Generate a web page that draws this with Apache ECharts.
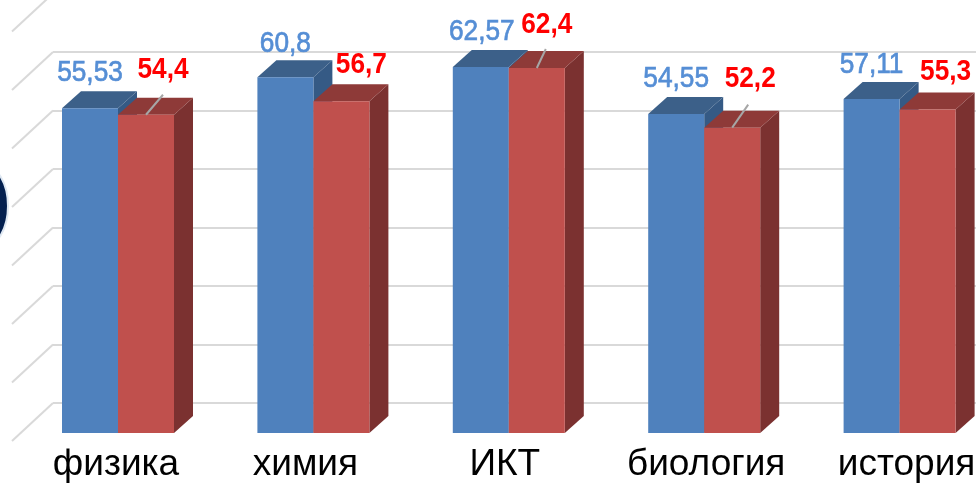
<!DOCTYPE html>
<html>
<head>
<meta charset="utf-8">
<style>html,body{margin:0;padding:0;background:#fff}#c{width:976px;height:484px}</style>
<script src="https://cdn.jsdelivr.net/npm/echarts@6/dist/echarts.min.js"></script>
</head>
<body>
<div id="c"></div>
<script>
const categories = ['физика', 'химия', 'ИКТ', 'биология', 'история'];
const blueValues = [55.53, 60.8, 62.57, 54.55, 57.11];
const redValues = [54.4, 56.7, 62.4, 52.2, 55.3];
const wallTicks = [0, 10, 20, 30, 40, 50, 60, 70];

// layout of the hand-placed labels: pixel shift from the bar's front top centre
const blueLabelShift = [[0, -35], [0, -34], [1, -35], [0, -35], [0, -34]];
const redLabelShift = [[17, -45], [20, -37], [10, -43], [18, -49], [18, -38]];
const redLeader = [[17, -20], null, [9, -19], [16, -23], null];
// layout: horizontal shift of each category label from its band centre
const categoryShift = [-2, -8, -4, 2, 7];

const DEPTH_X = 19, DEPTH_Y = 17, BAR_W = 56;
const fmt = v => String(v).replace('.', ',');

function bar3d(offset, colors, labelColor, weight, shifts, leader) {
  return function (params, api) {
    const i = api.value(0), v = api.value(1);
    const top = api.coord([i, v]), base = api.coord([i, 0]);
    const x0 = top[0] + offset, x1 = x0 + BAR_W, yT = top[1], yB = base[1];
    const poly = (pts, fill) => ({ type: 'polygon', shape: { points: pts }, style: { fill: fill } });
    const kids = [
      poly([[x1, yT], [x1 + DEPTH_X, yT - DEPTH_Y], [x1 + DEPTH_X, yB - DEPTH_Y], [x1, yB]], colors[2]),
      poly([[x0, yT], [x0 + DEPTH_X, yT - DEPTH_Y], [x1 + DEPTH_X, yT - DEPTH_Y], [x1, yT]], colors[1]),
      { type: 'rect', shape: { x: x0, y: yT, width: BAR_W, height: yB - yT }, style: { fill: colors[0] } }
    ];
    const cx = x0 + BAR_W / 2, s = shifts[params.dataIndex];
    const tip = leader && leader[params.dataIndex];
    if (tip) {
      kids.push({ type: 'line', shape: { x1: cx, y1: yT, x2: cx + tip[0], y2: yT + tip[1] },
        style: { stroke: '#a6a6a6', lineWidth: 2 } });
    }
    kids.push({ type: 'text', x: cx + s[0], y: yT + s[1], scaleX: 0.875, style: {
      text: fmt(v), fill: labelColor, stroke: labelColor, lineWidth: weight === 'bold' ? 0 : 0.7,
      align: 'center', verticalAlign: 'middle',
      font: weight + ' 30px "Liberation Sans",sans-serif' } });
    return { type: 'group', children: kids };
  };
}

const rich = {};
categoryShift.forEach((d, i) => {
  rich['c' + i] = { color: '#000', fontSize: 37, fontFamily: '"Liberation Sans",Arial,sans-serif',
    padding: d < 0 ? [0, -2 * d, 0, 0] : [0, 0, 0, 2 * d] };
});

const chart = echarts.init(document.getElementById('c'), null, { renderer: 'canvas' });
chart.setOption({
  animation: false,
  backgroundColor: '#fff',
  grid: [
    { left: 20.3, width: 977, top: 23.5, height: 409.5, outerBoundsMode: 'none' },
    { left: 53, width: 950, top: -6.5, height: 409.5, outerBoundsMode: 'none' }
  ],
  xAxis: [
    { type: 'category', gridIndex: 0, data: categories,
      axisLine: { show: false }, axisTick: { show: false },
      axisLabel: { margin: 13, interval: 0, hideOverlap: false, rich: rich,
        formatter: (name, idx) => '{c' + idx + '|' + name + '}' } },
    { type: 'category', gridIndex: 1, data: categories, show: false }
  ],
  yAxis: [
    { type: 'value', gridIndex: 0, min: 0, max: 70, interval: 10, show: false, splitLine: { show: false } },
    { type: 'value', gridIndex: 1, min: 0, max: 70, interval: 10,
      axisLine: { show: false }, axisTick: { show: false }, axisLabel: { show: false },
      splitLine: { show: true, lineStyle: { color: '#d9d9d9', width: 2 } } }
  ],
  series: [
    { type: 'custom', xAxisIndex: 1, yAxisIndex: 1, clip: false, silent: true, z: 1,
      data: wallTicks.map(t => [0, t]),
      renderItem: function (params, api) {
        const y = api.coord([0, api.value(1)])[1];
        return { type: 'line', shape: { x1: 53, y1: y, x2: 12, y2: y + 38 },
          style: { stroke: '#d9d9d9', lineWidth: 2 } };
      } },
    { type: 'custom', xAxisIndex: 0, yAxisIndex: 0, clip: false, z: 2,
      data: blueValues.map((v, i) => [i, v]),
      renderItem: bar3d(-BAR_W, ['#4f81bd', '#3c6089', '#355a85'], '#558ed5', 'normal', blueLabelShift) },
    { type: 'custom', xAxisIndex: 0, yAxisIndex: 0, clip: false, z: 3,
      data: redValues.map((v, i) => [i, v]),
      renderItem: bar3d(0, ['#c0504d', '#8e3a38', '#7b3130'], '#ff0000', 'bold', redLabelShift, redLeader) }
  ],
  graphic: [
    { type: 'ellipse', z: 5, silent: true, shape: { cx: -18, cy: 206, rx: 26, ry: 42 },
      style: { fill: '#04204f', stroke: '#dfe8f2', lineWidth: 2 } }
  ]
});
</script>
</body>
</html>
